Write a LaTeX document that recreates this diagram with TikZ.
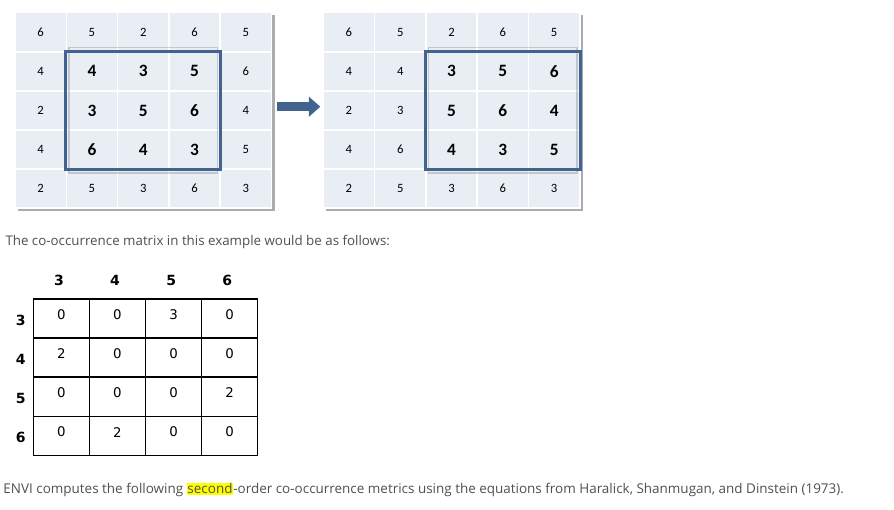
\documentclass[tikz,border=0pt]{standalone}
\usepackage{fontspec}
\setmainfont{Open Sans}
\newfontfamily\gridfont{Carlito}
\newfontfamily\matfont{DejaVu Sans}
\usetikzlibrary{arrows.meta}

\definecolor{cellfill}{RGB}{233,237,244}
\definecolor{cellshade}{RGB}{170,172,176}
\definecolor{boxblue}{RGB}{66,98,143}
\definecolor{bodygray}{RGB}{80,80,80}
\definecolor{marker}{RGB}{255,255,0}

\tikzset{every picture/.style={line width=0.75pt}}
\tikzset{
  gridcell/.style={draw=white, fill=cellfill, line width=1.1pt, inner sep=0pt,
    minimum width=38.5pt, minimum height=29.3pt,
    font=\gridfont\fontsize{9.5}{10}\selectfont},
  bold0/.style={},
  bold1/.style={font=\gridfont\bfseries\fontsize{13}{14}\selectfont},
  framebox/.style={draw=boxblue, line width=2.2pt},
  frameshade/.style={draw=cellshade, draw opacity=0.6, line width=1.3pt},
  shiftarrow/.style={draw=boxblue, line width=6.8pt, shorten <=3.8pt, shorten >=1.7pt,
    -{Triangle[length=8.5pt, width=14.5pt]}},
  matcell/.style={draw=black, line width=1.1pt, minimum width=42pt, minimum height=29.3pt, inner sep=0pt},
  matval/.style={inner sep=0pt, font=\matfont\fontsize{10}{12}\selectfont},
  mathead/.style={inner sep=0pt, font=\matfont\bfseries\fontsize{10.5}{12}\selectfont},
  bodytext/.style={inner sep=0pt, anchor=west, text=bodygray, font=\fontsize{10}{12}\selectfont}
}

\begin{document}
\begin{tikzpicture}[x=0.75pt,y=0.75pt,yscale=-1,xscale=1]
\useasboundingbox (0,0) rectangle (894,510);
\fill[white] (0,0) rectangle (894,510);

%Shadows of the two grids
\fill[cellshade] (17.5,15) rectangle (274.5,211);
\fill[cellshade] (325.8,15) rectangle (582.8,211);

%Left grid
\foreach \row [count=\r] in {{6,5,2,6,5},{4,4,3,5,6},{2,3,5,6,4},{4,6,4,3,5},{2,5,3,6,3}} {
  \foreach \v [count=\c] in \row {
    \pgfmathtruncatemacro\isbold{(\r>1)*(\r<5)*(\c>1)*(\c<5)}
    \node[gridcell, bold\isbold] (l-\r-\c) at ({15+51.3*(\c-0.5)},{12.7+39.1*(\r-0.5)}) {\v};
  }
}

%Right grid
\foreach \row [count=\r] in {{6,5,2,6,5},{4,4,3,5,6},{2,3,5,6,4},{4,6,4,3,5},{2,5,3,6,3}} {
  \foreach \v [count=\c] in \row {
    \pgfmathtruncatemacro\isbold{(\r>1)*(\r<5)*(\c>2)}
    \node[gridcell, bold\isbold] (r-\r-\c) at ({323.3+51.3*(\c-0.5)},{12.7+39.1*(\r-0.5)}) {\v};
  }
}

%Frames round the windows
\draw[frameshade] ([xshift=2.6pt,yshift=-2.6pt]l-2-2.north west) rectangle ([xshift=-2.6pt,yshift=2.6pt]l-4-4.south east);
\draw[frameshade] ([xshift=2.6pt,yshift=-2.6pt]r-2-3.north west) rectangle ([xshift=-2.6pt,yshift=2.6pt]r-4-5.south east);
\draw[framebox] (l-2-2.north west) rectangle (l-4-4.south east);
\draw[framebox] (r-2-3.north west) rectangle (r-4-5.south east);

%Arrow between the grids
\draw[shiftarrow] ([yshift=-2.8pt]l-3-5.east) -- ([yshift=-2.8pt]r-3-1.west);

% Text Node
\node[bodytext] (caption) at (5,242) {The co-occurrence matrix in this example would be as follows:};

%Co-occurrence matrix
\foreach \row [count=\r] in {{0,0,3,0},{2,0,0,0},{0,0,0,2},{0,2,0,0}} {
  \foreach \v [count=\c] in \row {
    \node[matcell] (m-\r-\c) at ({33.3+56.1*(\c-0.5)},{299+39.1*(\r-0.5)}) {};
    \node[matval] (v-\r-\c) at ([yshift=-2.8pt]m-\r-\c.center) {\v};
  }
}
\foreach \h [count=\c] in {3,4,5,6} {
  \node[mathead] (ch-\c) at ([xshift=-1.8pt,yshift=-13.5pt]m-1-\c.north) {\h};
  \node[mathead] (rh-\c) at ([yshift=1.5pt]m-\c-1.center -| 20.7,0) {\h};
}

% Text Node
\node[bodytext] (footer) at (3,490) {\fontsize{10.1}{12}\selectfont ENVI computes the following {\setlength{\fboxsep}{0.6pt}\colorbox{marker}{second}}-order co-occurrence metrics using the equations from Haralick, Shanmugan, and Dinstein (1973).};
\end{tikzpicture}
\end{document}
